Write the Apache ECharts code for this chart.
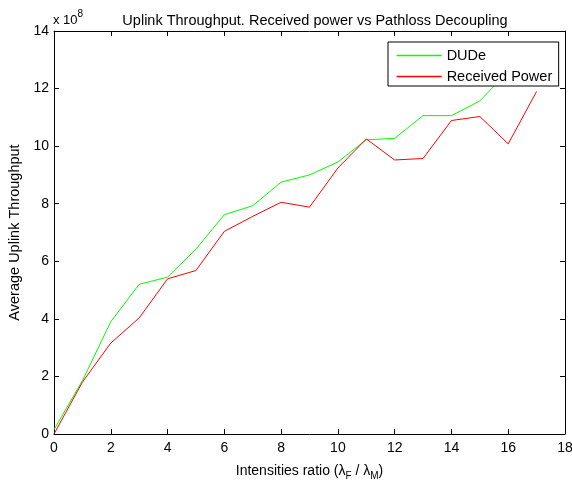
<!DOCTYPE html>
<html><head><meta charset="utf-8">
<script src="https://cdn.jsdelivr.net/npm/echarts@6/dist/echarts.min.js"></script>
<style>html,body{margin:0;padding:0;background:#fff}#c{width:572px;height:483px}</style>
</head><body><div id="c"></div>
<script>
const ratios = [0,1,2,3,4,5,6,7,8,9,10,11,12,13,14,15,16,17];
const dude = [0.15,1.85,3.9,5.2,5.45,6.42,7.62,7.93,8.75,9.0,9.45,10.22,10.27,11.06,11.06,11.57,12.6,13.3];
const recvPower = [0.0,1.8,3.16,4.03,5.39,5.68,7.04,7.56,8.05,7.88,9.24,10.25,9.52,9.57,10.89,11.03,10.08,11.9];
const xTicks = [0,2,4,6,8,10,12,14,16,18];
const yTicks = [0,2,4,6,8,10,12,14];

const font = 'Liberation Sans, Arial, sans-serif';
const chart = echarts.init(document.getElementById('c'));
const pair = (xs, ys) => xs.map((x, i) => [x, ys[i]]);
const axisCommon = {
  type: 'value',
  axisLine: {show: true, onZero: false, lineStyle: {color: '#000', width: 1}},
  axisTick: {show: true, inside: true, length: 5, lineStyle: {color: '#000'}},
  splitLine: {show: false}
};
chart.setOption({
  animation: false,
  backgroundColor: '#fff',
  title: {
    text: 'Uplink Throughput. Received power vs Pathloss Decoupling',
    left: 310, top: 8, textAlign: 'center',
    textStyle: {fontFamily: font, fontSize: 14.5, fontWeight: 'normal', color: '#000'}
  },
  grid: {left: 54, right: 7, top: 31, bottom: 49, containLabel: false, outerBoundsMode: 'none'},
  legend: {
    orient: 'vertical', left: 388, top: 42,
    padding: [6, 6, 2, 8],
    itemGap: 6,
    itemWidth: 45, itemHeight: 15,
    itemStyle: {opacity: 0},
    lineStyle: {width: 1.3},
    backgroundColor: '#fff', borderColor: '#000', borderWidth: 1,
    textStyle: {fontFamily: font, fontSize: 14.5, lineHeight: 15, color: '#000', width: 106},
    data: [
      {name: 'DUDe', lineStyle: {color: '#00ff00'}},
      {name: 'Received Power', lineStyle: {color: '#ff0000'}}
    ]
  },
  xAxis: [
    Object.assign({}, axisCommon, {
      min: 0, max: 18, interval: 2,
      name: '{n|Intensities ratio (λ}{s|F}{n| / λ}{s|M}{n|)}',
      nameLocation: 'middle', nameGap: 28,
      nameTextStyle: {rich: {
        n: {fontFamily: font, fontSize: 14, color: '#000'},
        s: {fontFamily: font, fontSize: 10, color: '#000', verticalAlign: 'bottom', padding: [9, 0, 0, 0]}
      }},
      axisLabel: {fontFamily: font, fontSize: 14, color: '#000', margin: 7}
    }),
    Object.assign({}, axisCommon, {
      position: 'top', min: 0, max: 18, interval: 2,
      axisLabel: {show: false}
    })
  ],
  yAxis: [
    Object.assign({}, axisCommon, {
      min: 0, max: 14, interval: 2,
      name: 'Average Uplink Throughput',
      nameLocation: 'middle', nameGap: 25,
      nameTextStyle: {fontFamily: font, fontSize: 14.5, color: '#000'},
      axisLabel: {fontFamily: font, fontSize: 14, color: '#000', margin: 5}
    }),
    Object.assign({}, axisCommon, {
      position: 'right', min: 0, max: 14, interval: 2,
      axisLabel: {show: false}
    })
  ],
  graphic: [{
    type: 'text', left: 53, top: 9,
    style: {
      text: '{a|x 10}{b|8}',
      rich: {
        a: {fontFamily: font, fontSize: 13, fill: '#000', padding: [5, 0, 0, 0]},
        b: {fontFamily: font, fontSize: 10, fill: '#000', verticalAlign: 'top'}
      }
    }
  }],
  series: [
    {name: 'DUDe', type: 'line', data: pair(ratios, dude), symbol: 'none', z: 2,
     lineStyle: {color: '#00ff00', width: 1}, itemStyle: {color: '#00ff00'}},
    {name: 'Received Power', type: 'line', data: pair(ratios, recvPower), symbol: 'none', z: 3,
     lineStyle: {color: '#ff0000', width: 1}, itemStyle: {color: '#ff0000'}}
  ]
});
</script></body></html>
